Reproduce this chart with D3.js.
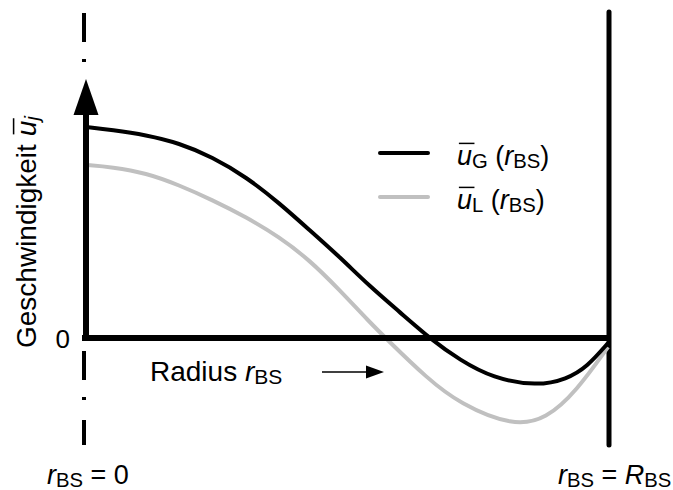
<!DOCTYPE html>
<html>
<head>
<meta charset="utf-8">
<script src="https://cdn.jsdelivr.net/npm/d3@7"></script>
<style>
  body { margin: 0; background: #fff; }
  svg { display: block; font-family: "Liberation Sans", Arial, sans-serif; }
</style>
</head>
<body>
<div id="chart"></div>
<script>
// Abmessungen
const width = 673
const height = 490

// Daten: relativer Radius r/R und normierte Geschwindigkeit
const radiusG = [0, 0.05, 0.115, 0.178, 0.242, 0.307, 0.37, 0.428, 0.486, 0.543, 0.601, 0.662, 0.716, 0.779, 0.864, 0.921, 0.96, 1.0]
const speedG  = [1.0, 0.986, 0.962, 0.924, 0.858, 0.763, 0.64, 0.512, 0.384, 0.246, 0.123, -0.009, -0.104, -0.19, -0.228, -0.195, -0.137, -0.024]

const radiusL = [0, 0.05, 0.115, 0.178, 0.242, 0.307, 0.37, 0.428, 0.486, 0.543, 0.576, 0.653, 0.716, 0.818, 0.882, 0.94, 1.0]
const speedL  = [0.82, 0.81, 0.782, 0.725, 0.654, 0.573, 0.479, 0.37, 0.227, 0.076, -0.005, -0.19, -0.312, -0.418, -0.384, -0.25, -0.043]

const yTicks = [0]
const legendNames = ["G", "L"]
const colors = ["#000000", "#c0c0c0"]

const svg = d3.select("#chart").append("svg")
	.attr("width", width)
	.attr("height", height)

// Skalen
const x = d3.scaleLinear().domain([0, 1]).range([86, 608])
const y = d3.scaleLinear().domain([0, 1]).range([338, 127])

// Text mit Index, Kursiv und Überstrich
function richText(g, px, py, parts, size) {
	const t = g.append("text")
		.attr("x", px)
		.attr("y", py)
		.attr("font-size", size)
		.attr("fill", "#000")
	let idx = 0
	let shift = 0
	const overs = []
	parts.forEach(function (p) {
		const target = p.sub ? size * 0.1 : 0
		const s = t.append("tspan").text(p.t)
			.attr("font-size", p.sub ? size * 0.75 : size)
		if (target !== shift) s.attr("dy", target - shift)
		shift = target
		if (p.italic) s.attr("font-style", "italic")
		if (p.over) overs.push(idx)
		idx += p.t.length
	})
	overs.forEach(function (i) {
		const e = t.node().getExtentOfChar(i)
		g.append("line")
			.attr("x1", e.x + size * 0.07)
			.attr("x2", e.x + e.width + size * 0.09)
			.attr("y1", py - size * 0.8)
			.attr("y2", py - size * 0.8)
			.attr("stroke", "#000")
			.attr("stroke-width", size * 0.055)
	})
	return t
}

// Strichpunktlinie (Symmetrieachse)
const dash = "29 17 3 20"
svg.append("line")
	.attr("x1", 84).attr("x2", 84)
	.attr("y1", 13).attr("y2", 64)
	.attr("stroke", "#000").attr("stroke-width", 4)
	.attr("stroke-dasharray", dash)
svg.append("line")
	.attr("x1", 84).attr("x2", 84)
	.attr("y1", 351).attr("y2", 445)
	.attr("stroke", "#000").attr("stroke-width", 4)
	.attr("stroke-dasharray", dash)

// Wand bei R
svg.append("line")
	.attr("x1", x(1) + 1).attr("x2", x(1) + 1)
	.attr("y1", 12).attr("y2", 445)
	.attr("stroke", "#000").attr("stroke-width", 5)
	.attr("stroke-linecap", "round")

// Kurven
const line = d3.line()
	.x(function (d) { return x(d[0]) })
	.y(function (d) { return y(d[1]) })
	.curve(d3.curveBasis)

const seriesData = [d3.zip(radiusG, speedG), d3.zip(radiusL, speedL)]
svg.selectAll("path.curve")
	.data(seriesData.slice().reverse())
	.enter()
	.append("path")
	.attr("class", "curve")
	.attr("d", line)
	.attr("fill", "none")
	.attr("stroke", function (d, i) { return colors[1 - i] })
	.attr("stroke-width", 4)

// Nulllinie
svg.append("line")
	.attr("x1", x(0) - 4).attr("x2", x(1) + 2)
	.attr("y1", y(0)).attr("y2", y(0))
	.attr("stroke", "#000").attr("stroke-width", 6)

// y-Achse mit Pfeil
svg.append("line")
	.attr("x1", x(0)).attr("x2", x(0))
	.attr("y1", y(0) + 3).attr("y2", 112)
	.attr("stroke", "#000").attr("stroke-width", 6)
svg.append("path")
	.attr("d", `M${x(0)},79 L${x(0) - 12.5},115 L${x(0) + 12.5},115 Z`)
	.attr("fill", "#000")

// Tick "0"
const yAxis = svg.append("g")
	.attr("transform", `translate(${x(0) - 16},0)`)
	.call(d3.axisLeft(y).tickValues(yTicks).tickSize(0).tickPadding(0).tickFormat(d3.format("d")))
yAxis.select(".domain").remove()
yAxis.selectAll("text")
	.attr("font-size", 26)
	.attr("font-family", "Liberation Sans, Arial, sans-serif")
	.attr("fill", "#000")
	.attr("dy", "0.36em")

// y-Beschriftung
const yLab = svg.append("g").attr("transform", "translate(36,348) rotate(-90)")
richText(yLab, 0, 0, [{ t: "Geschwindigkeit " }, { t: "u", italic: true, over: true }, { t: "j", italic: true, sub: true }], 28)

// x-Beschriftung
richText(svg, 150, 381, [{ t: "Radius " }, { t: "r", italic: true }, { t: "BS", sub: true }], 28)
svg.append("line")
	.attr("x1", 322).attr("x2", 368)
	.attr("y1", 372).attr("y2", 372)
	.attr("stroke", "#000").attr("stroke-width", 1.5)
svg.append("path")
	.attr("d", "M384,372 L366,365.5 L366,378.5 Z")
	.attr("fill", "#000")

// Legende
const legend = svg.selectAll("g.legend")
	.data(legendNames)
	.enter()
	.append("g")
	.attr("class", "legend")
	.attr("transform", function (d, i) { return `translate(0,${153 + i * 44})` })
legend.append("line")
	.attr("x1", 380).attr("x2", 428)
	.attr("stroke", function (d, i) { return colors[i] })
	.attr("stroke-width", 4)
	.attr("stroke-linecap", "round")
legend.each(function (d) {
	richText(d3.select(this), 457, 12, [
		{ t: "u", italic: true, over: true },
		{ t: d, sub: true },
		{ t: " (" },
		{ t: "r", italic: true },
		{ t: "BS", sub: true },
		{ t: ")" }
	], 27)
})

// Randbeschriftungen
richText(svg, 47, 484, [{ t: "r", italic: true }, { t: "BS", sub: true }, { t: " = 0" }], 27)
richText(svg, 558, 484, [{ t: "r", italic: true }, { t: "BS", sub: true }, { t: " = " }, { t: "R", italic: true }, { t: "BS", sub: true }], 27)
</script>
</body>
</html>
